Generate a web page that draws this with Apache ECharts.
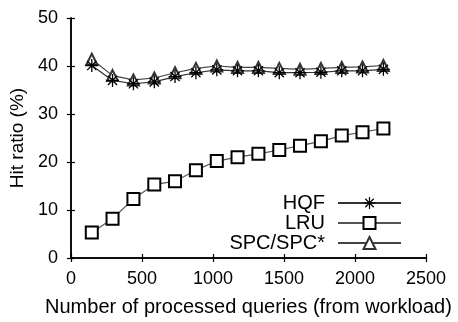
<!DOCTYPE html>
<html lang="en">
<head>
    <meta charset="UTF-8">
    <title>Hit ratio</title>
    <style>
        html, body { margin: 0; padding: 0; background: #fff; }
        #main { width: 458px; height: 322px; }
    </style>
    <script src="https://cdn.jsdelivr.net/npm/echarts@6/dist/echarts.min.js"></script>
</head>
<body>
<div id="main"></div>
<script>
// processed queries (x)
var queries = [147, 293, 440, 587, 733, 880, 1027, 1173, 1320, 1467, 1613, 1760, 1907, 2053, 2200];
// hit ratio (%)
var hqf = [40.1, 37.0, 36.3, 36.7, 37.8, 38.6, 39.2, 39.0, 39.0, 38.6, 38.6, 38.7, 39.0, 39.0, 39.3];
var lru = [5.3, 8.2, 12.3, 15.3, 16.0, 18.3, 20.2, 21.0, 21.7, 22.5, 23.4, 24.3, 25.5, 26.2, 27.0];
var spc = [41.4, 38.0, 37.1, 37.5, 38.6, 39.5, 40.0, 39.7, 39.7, 39.5, 39.3, 39.5, 39.7, 39.8, 40.1];

var xTicks = [0, 500, 1000, 1500, 2000, 2500];
var yTicks = [0, 10, 20, 30, 40, 50];

function pairs(ys) {
    var res = [];
    for (var i = 0; i < queries.length; i++) {
        res.push([queries[i], ys[i]]);
    }
    return res;
}

// asterisk made of + and x bars
var star = 'path://M-1,-10L1,-10L1,10L-1,10Z' +
    'M-10,-1L10,-1L10,1L-10,1Z' +
    'M-7.78,-6.36L-6.36,-7.78L7.78,6.36L6.36,7.78Z' +
    'M-6.36,7.78L-7.78,6.36L6.36,-7.78L7.78,-6.36Z';

var font = 'Liberation Sans';
var chart = echarts.init(document.getElementById('main'));

var axisCommon = {
    axisLine: { show: true, lineStyle: { color: '#000', width: 1.5 } },
    axisTick: { show: true, inside: true, length: 4, lineStyle: { color: '#000', width: 1.2 } },
    splitLine: { show: false }
};

var option = {
    animation: false,
    backgroundColor: '#fff',
    grid: { left: 67, right: 32, top: 18, bottom: 64 },
    legend: {
        orient: 'vertical',
        align: 'right',
        right: 56,
        top: 193,
        padding: 0,
        itemWidth: 63,
        itemHeight: 15,
        itemGap: 0,
        textStyle: { fontFamily: font, fontSize: 20, lineHeight: 20, color: '#000', padding: [0, 8, 0, 0] },
        data: ['HQF', 'LRU', 'SPC/SPC*']
    },
    xAxis: [
        Object.assign({
            type: 'value', min: 0, max: 2500, interval: 500,
            name: 'Number of processed queries (from workload)',
            nameLocation: 'middle', nameGap: 39,
            nameTextStyle: { fontFamily: font, fontSize: 20, color: '#000' },
            axisLabel: {
                fontFamily: font, fontSize: 18, color: '#000', margin: 12,
                formatter: function (v) { return String(v); }
            }
        }, axisCommon),
        Object.assign({
            type: 'value', min: 0, max: 2500, interval: 500, position: 'top',
            axisLabel: { show: false }
        }, axisCommon)
    ],
    yAxis: [
        Object.assign({
            type: 'value', min: 0, max: 50, interval: 10,
            name: 'Hit ratio (%)',
            nameLocation: 'middle', nameGap: 31,
            nameTextStyle: { fontFamily: font, fontSize: 19, color: '#000' },
            axisLabel: { fontFamily: font, fontSize: 18, color: '#000', margin: 13 }
        }, axisCommon),
        Object.assign({
            type: 'value', min: 0, max: 50, interval: 10, position: 'right',
            axisLabel: { show: false }
        }, axisCommon)
    ],
    series: [
        {
            name: 'LRU', type: 'line', data: pairs(lru),
            symbol: 'emptyRect', symbolSize: 12,
            itemStyle: { color: '#000', borderWidth: 1.5 },
            lineStyle: { color: '#555', width: 1.2 }
        },
        {
            name: 'SPC/SPC*', type: 'line', data: pairs(spc),
            symbol: 'emptyTriangle', symbolSize: 11,
            itemStyle: { color: '#333', borderWidth: 1.2 },
            lineStyle: { color: '#444', width: 1.2 }
        },
        {
            name: 'HQF', type: 'line', data: pairs(hqf),
            symbol: star, symbolSize: 13,
            itemStyle: { color: '#000' },
            lineStyle: { color: '#333', width: 1.2 }
        }
    ]
};
chart.setOption(option);
</script>
</body>
</html>
